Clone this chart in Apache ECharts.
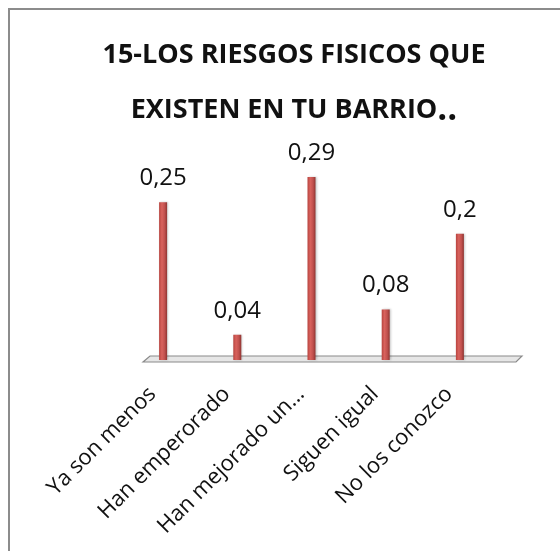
<!DOCTYPE html>
<html><head><meta charset="utf-8">
<script src="https://cdn.jsdelivr.net/npm/echarts@6/dist/echarts.min.js"></script>
<style>html,body{margin:0;padding:0;background:#fff}#c{width:560px;height:551px}</style>
</head><body><div id="c"></div>
<script>
var categories = ["Ya son menos", "Han emperorado", "Han mejorado un…", "Siguen igual", "No los conozco"];
var values = [0.25, 0.04, 0.29, 0.08, 0.2];
var valueLabels = ["0,25", "0,04", "0,29", "0,08", "0,2"];
var titleLine1 = "15-LOS RIESGOS FISICOS QUE";
var titleLine2 = "EXISTEN EN TU BARRIO";

var chart = echarts.init(document.getElementById('c'));
var FONT = "'Open Sans', sans-serif";
chart.setOption({
  animation: false,
  backgroundColor: '#fff',
  title: {
    text: '{t|' + titleLine1 + '}\n{t|' + titleLine2 + '}{d|..}',
    left: 289, top: 23, textAlign: 'center',
    textStyle: {
      rich: {
        t: { fontFamily: FONT, fontWeight: 'bold', fontSize: 27, lineHeight: 55, color: '#111' },
        d: { fontFamily: FONT, fontWeight: 'bold', fontSize: 35, lineHeight: 55, color: '#111' }
      }
    }
  },
  grid: { left: 126, right: 63, top: 139, bottom: 191 },
  xAxis: {
    type: 'category', data: categories,
    axisLine: { show: false }, axisTick: { show: false },
    axisLabel: {
      rotate: 45, interval: 0, margin: 20, fontFamily: FONT, fontSize: 22, color: '#111',
      padding: [0, 15, 0, 0]
    }
  },
  yAxis: { type: 'value', min: 0, max: 0.35, show: false, splitLine: { show: false } },
  graphic: [
    { type: 'rect', shape: { x: 9, y: 9, width: 600, height: 600 }, style: { fill: 'none', stroke: '#8c8c8c', lineWidth: 2 }, z: 100 },
    { type: 'polygon', shape: { points: [[150, 356], [522, 356], [516, 362], [143, 362]] },
      style: { fill: '#e6e6e6', stroke: '#8a8a8a', lineWidth: 1.2 }, z: 1 }
  ],
  series: [{
    type: 'bar', data: values, barWidth: 8, z: 5,
    itemStyle: {
      color: new echarts.graphic.LinearGradient(0, 0, 1, 0, [
        { offset: 0, color: '#b8443f' }, { offset: 0.35, color: '#d8625d' },
        { offset: 0.7, color: '#c0504d' }, { offset: 1, color: '#8e3431' }
      ]),
      shadowColor: 'rgba(0,0,0,0.2)', shadowBlur: 2, shadowOffsetX: 1
    },
    label: {
      show: true, position: 'top', distance: 12, fontFamily: FONT, fontSize: 24, color: '#111',
      formatter: function (p) { return valueLabels[p.dataIndex]; }
    }
  }]
});
</script></body></html>
